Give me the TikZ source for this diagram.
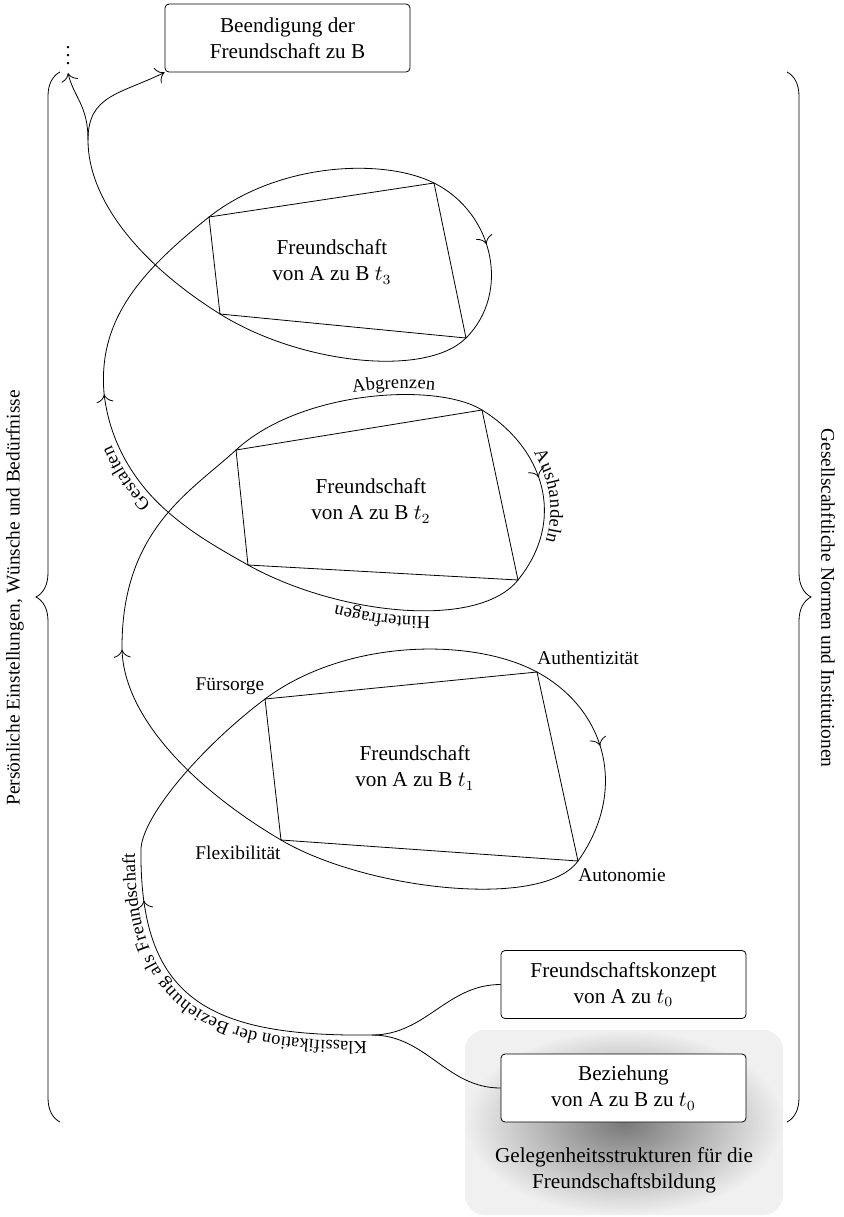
\documentclass[tikz,border=0pt]{standalone}
\usepackage{fontspec}
\setmainfont{Liberation Serif}
\usetikzlibrary{arrows.meta}
\usetikzlibrary{decorations.markings}
\usetikzlibrary{decorations.text}
\usetikzlibrary{decorations.pathreplacing}
\newcommand{\mainsize}{\fontsize{10.6}{13}\selectfont}
\newcommand{\lblsize}{\fontsize{9.7}{11.5}\selectfont}
\newcommand{\pathsize}{\fontsize{9.2}{11}\selectfont}
\tikzset{->-/.style={decoration={
      markings,
      mark=at position #1 with {\arrow{>}}},postaction={decorate}},
  ->-/.default=.5}
\tikzset{along/.style 2 args={postaction={decorate,decoration={text along path,
      text={|\pathsize|#1},text align={align=center,#2},raise=3pt}}}}
\tikzset{box/.style={draw,rounded corners=2pt,fill=white,align=center,
      minimum width=122.5pt,minimum height=34pt,font=\mainsize}}
\tikzset{stage/.style={align=center,font=\mainsize}}
\tikzset{value/.style={font=\lblsize,inner sep=0pt}}
\tikzset{side/.style={decorate,decoration={brace,amplitude=12pt}}}

\begin{document}
\begin{tikzpicture}[x=0.5pt,y=-0.5pt,>={To[length=4pt,width=8.5pt]}]
  \useasboundingbox (0,0) rectangle (844,1217);

  \node[shade,rounded corners=10pt,inner color=black!53,outer color=black!6,
    minimum width=159pt,minimum height=92.5pt] (gelegen) at (624,1122.5) {};
  \node[stage] (geltext) at (624,1170) {Gelegenheitsstrukturen für die\\Freundschaftsbildung};

  \node[box] (ende) at (287.5,38) {Beendigung der\\Freundschaft zu B};
  \node[box] (konz) at (623.5,984.5) {Freundschaftskonzept\\von A zu $t_0$};
  \node[box] (bez) at (623.5,1088) {Beziehung\\von A zu B zu $t_0$};
  \node (dots) [anchor=south,inner sep=4pt] at (68,73) {$\vdots$};

  \coordinate (lb) at (60,1122);
  \coordinate (lt) at (60,72);
  \coordinate (rt) at (787,72);
  \coordinate (rb) at (787,1122);
  \draw[side] (lb) -- (lt);
  \draw[side] (rt) -- (rb);
  \node[rotate=90,font=\lblsize] (pers) at (15,598) {Persönliche Einstellungen, Wünsche und Bedürfnisse};
  \node[rotate=-90,font=\lblsize] (ges) at (828,598) {Gesellscahftliche Normen und Institutionen};

  \coordinate (c1ul) at (265,699);
  \coordinate (c1ur) at (537,672);
  \coordinate (c1lr) at (578,861);
  \coordinate (c1ll) at (281,840);
  \coordinate (c2ul) at (236,450);
  \coordinate (c2ur) at (482,410);
  \coordinate (c2lr) at (518,580);
  \coordinate (c2ll) at (248,565);
  \coordinate (c3ul) at (209,217);
  \coordinate (c3ur) at (434,183);
  \coordinate (c3lr) at (466,338);
  \coordinate (c3ll) at (220,314);

  \coordinate (m0) at (372,1035);
  \coordinate (q0) at (141,848);
  \coordinate (a1) at (122,647);
  \coordinate (x2) at (168,512);
  \coordinate (a2) at (104,393);
  \coordinate (br) at (88,140);

  \draw (c1ul) -- (c1ur) -- (c1lr) -- (c1ll) -- cycle;
  \draw (c2ul) -- (c2ur) -- (c2lr) -- (c2ll) -- cycle;
  \draw (c3ul) -- (c3ur) -- (c3lr) -- (c3ll) -- cycle;
  \node[stage] (f1) at (415,768) {Freundschaft\\von A zu B $t_1$};
  \node[stage] (f2) at (371,501) {Freundschaft\\von A zu B $t_2$};
  \node[stage] (f3) at (332,262) {Freundschaft\\von A zu B $t_3$};

  \node[value] (fuer) at (230,686) {Fürsorge};
  \node[value] (auth) at (588,658) {Authentizität};
  \node[value] (flex) at (238,853) {Flexibilität};
  \node[value] (auto) at (622,875) {Autonomie};

  \draw (konz.west) to[out=180,in=0] (m0);
  \draw (bez.west) to[out=180,in=0] (m0);
  \draw[->-=.85,along={Klassifikation der Beziehung als Freundschaft}{}] (m0) .. controls +(-165,2) and +(-2,150) .. (q0);
  \draw (q0) .. controls +(3,-35) and +(-60,45) .. (c1ul);
  \draw (c1ul) .. controls +(80,-60) and +(-65,-35) .. (c1ur);
  \draw[->-=.45] (c1ur) .. controls +(70,38) and +(50,-70) .. (c1lr);
  \draw (c1lr) .. controls +(-35,49) and +(85,50) .. (c1ll);
  \draw[->-=.99] (c1ll) .. controls +(-85,-50) and +(0,70) .. (a1);
  \draw (a1) .. controls +(0,-117) and +(-46,42) .. (c2ul);
  \draw[along={Abgrenzen}{left indent=40pt}] (c2ul) .. controls +(65,-60) and +(-45,-28) .. (c2ur);
  \draw[->-=.45,along={Aushandeln}{left indent=10pt}] (c2ur) .. controls +(60,37) and +(50,-62) .. (c2lr);
  \draw[along={Hinterfragen}{}] (c2lr) .. controls +(-40,50) and +(90,50) .. (c2ll);
  \draw (c2ll) .. controls +(-30,-17) and +(25,22) .. (x2);
  \draw[->-=.99,along={Gestalten}{right indent=17pt}] (x2) .. controls +(-28,-24) and +(6,55) .. (a2);
  \draw (a2) .. controls +(-6,-73) and +(-69,55) .. (c3ul);
  \draw (c3ul) .. controls +(70,-55) and +(-50,-25) .. (c3ur);
  \draw[->-=.45] (c3ur) .. controls +(60,30) and +(45,-45) .. (c3lr);
  \draw (c3lr) .. controls +(-40,40) and +(80,50) .. (c3ll);
  \draw (c3ll) .. controls +(-80,-50) and +(0,60) .. (br);
  \draw[->] (br) .. controls +(0,-35) and +(6,25) .. (dots.south);
  \draw[->] (br) .. controls +(0,-45) and +(-45,22) .. (ende.south west);
\end{tikzpicture}
\end{document}
